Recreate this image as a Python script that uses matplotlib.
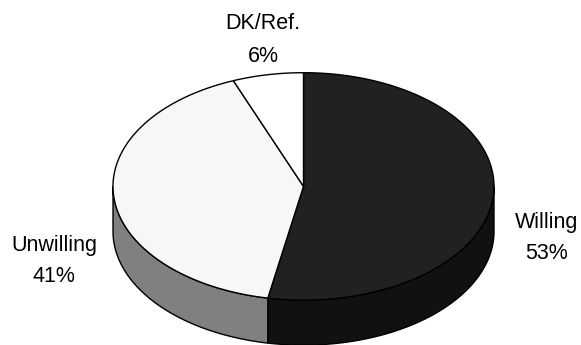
import numpy as np
import matplotlib.pyplot as plt
from matplotlib.patches import Polygon

# Survey answers
labels = ['Willing', 'Unwilling', 'DK/Ref.']
shares = [53, 41, 6]
top_colors = ['#212121', '#f7f7f7', '#ffffff']
side_colors = ['#111111', '#808080', '#d0d0d0']

# pie geometry in pixels (y grows downward)
cx, cy = 303.5, 186.4
rx, ry = 190.5, 113.7
depth = 45

fig = plt.figure(figsize=(5.81, 3.45), dpi=100)
ax = fig.add_axes([0, 0, 1, 1])
ax.set_xlim(0, 581)
ax.set_ylim(345, 0)
ax.axis('off')


def ell(t):
    return cx + rx * np.cos(t), cy - ry * np.sin(t)


# slices run clockwise from 12 o'clock
bounds = []
start = 90.0
for s in shares:
    end = start - s * 3.6
    bounds.append((start, end))
    start = end

# side walls: only the front half (180..360 deg) is visible
for (a0, a1), col in zip(bounds, side_colors):
    lo, hi = min(a0, a1), max(a0, a1)
    for off in (0, 360, -360):
        l, h = max(lo + off, 180), min(hi + off, 360)
        if h <= l:
            continue
        t = np.radians(np.linspace(l, h, 120))
        x, y = ell(t)
        pts = np.vstack([np.column_stack([x, y]),
                         np.column_stack([x[::-1], y[::-1] + depth])])
        ax.add_patch(Polygon(pts, closed=True, fc=col, ec='black', lw=1, zorder=1))

# top faces
for (a0, a1), col in zip(bounds, top_colors):
    t = np.radians(np.linspace(a0, a1, 200))
    x, y = ell(t)
    pts = np.vstack([[cx, cy], np.column_stack([x, y])])
    ax.add_patch(Polygon(pts, closed=True, fc=col, ec='black', lw=1, zorder=2))

# labels
label_pos = {'Willing': (547, 228), 'Unwilling': (54, 251), 'DK/Ref.': (263, 29)}
for name, val in zip(labels, shares):
    x, y = label_pos[name]
    ax.text(x, y, name, ha='center', va='baseline', fontsize=15.5,
            family='Liberation Sans', color='black')
    ax.text(x, y + 31 if name != 'DK/Ref.' else y + 33, f'{val}%', ha='center',
            va='baseline', fontsize=15.5, family='Liberation Sans', color='black')

fig.savefig('out.png', dpi=100)
